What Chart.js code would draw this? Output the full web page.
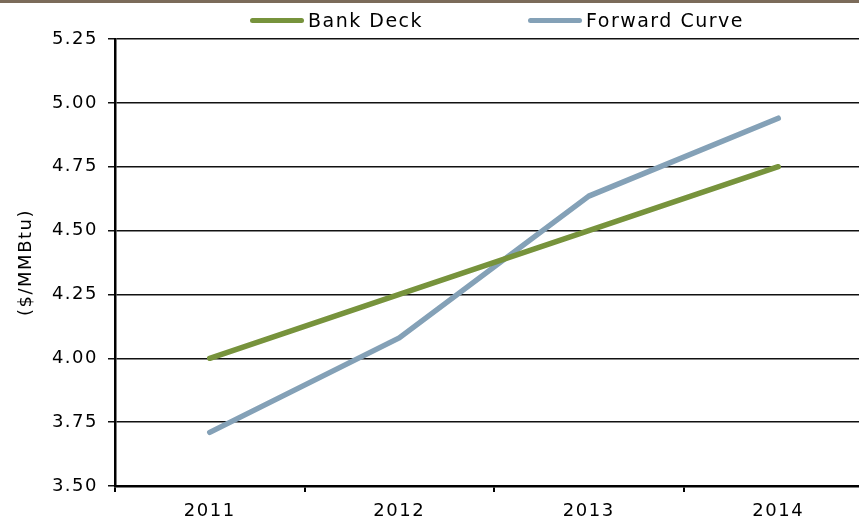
<!DOCTYPE html>
<html>
<head>
<meta charset="utf-8">
<script src="https://cdn.jsdelivr.net/npm/chart.js@4"></script>
<style>
  html, body { margin: 0; padding: 0; background: #fff; overflow: hidden; width: 859px; height: 521px; }
  #wrap { position: relative; width: 859px; height: 521px; overflow: hidden; }
  #topbar { position: absolute; left: 0; top: 0; width: 859px; height: 3px; background: #7b6b5a; }
  canvas { position: absolute; left: 0; top: 0; }
  .leg { position: absolute; top: 8px; height: 24px; display: flex; align-items: center;
         font-family: "DejaVu Sans", Verdana, sans-serif; font-size: 19px; letter-spacing: 1.5px; color: #000; }
  .leg span.sw { display: inline-block; width: 54px; height: 5px; border-radius: 3px; margin-right: 4px; }
</style>
</head>
<body>
<div id="wrap">
  <canvas id="chart" width="880" height="521"></canvas>
  <div id="topbar"></div>
  <div id="legend"></div>
</div>
<script>
// data
const tahun = ['2011', '2012', '2013', '2014'];
const namaSeri = ['Bank Deck', 'Forward Curve'];
const bankDeck = [4.00, 4.25, 4.50, 4.75];
const forwardCurve = [3.71, 4.08, 4.635, 4.94];
const warnaSeri = ['#77933c', '#84a1b7'];
const posisiLegend = [250, 528]; // posisi kiri item legenda

// legenda HTML
const legendEl = document.getElementById('legend');
namaSeri.forEach((nama, i) => {
  const item = document.createElement('div');
  item.className = 'leg';
  item.style.left = posisiLegend[i] + 'px';
  item.innerHTML = `<span class="sw" style="background:${warnaSeri[i]}"></span>${nama}`;
  legendEl.appendChild(item);
});

// plugin kecil untuk jarak huruf di canvas
const jarakHuruf = {
  id: 'jarakHuruf',
  beforeUpdate(chart) { chart.ctx.letterSpacing = '1.5px'; },
  beforeLayout(chart) { chart.ctx.letterSpacing = '1.5px'; },
  beforeDraw(chart) { chart.ctx.letterSpacing = '1.5px'; }
};

const fontTeks = { family: '"DejaVu Sans", Verdana, sans-serif', size: 18 };

new Chart(document.getElementById('chart').getContext('2d'), {
  type: 'line',
  data: {
    labels: tahun,
    datasets: [
      { label: namaSeri[0], data: bankDeck, borderColor: warnaSeri[0], backgroundColor: warnaSeri[0] },
      { label: namaSeri[1], data: forwardCurve, borderColor: warnaSeri[1], backgroundColor: warnaSeri[1] }
    ].map(d => Object.assign(d, {
      borderWidth: 5.5, borderCapStyle: 'round', borderJoinStyle: 'round',
      pointRadius: 0, tension: 0, fill: false
    }))
  },
  options: {
    responsive: false,
    animation: false,
    devicePixelRatio: 1,
    layout: { padding: { top: 39, right: 7, left: 0, bottom: 0 } },
    plugins: { legend: { display: false }, tooltip: { enabled: false } },
    scales: {
      x: {
        offset: true,
        grid: { drawOnChartArea: false, offset: true, tickLength: 6, lineWidth: 2,
                color: c => c.index >= tahun.length ? 'rgba(0,0,0,0)' : '#000' },
        border: { color: '#000', width: 2.5 },
        ticks: { font: fontTeks, color: '#000', padding: 9, maxRotation: 0 },
        afterFit(scale) { scale.height = 35; }
      },
      y: {
        min: 3.5,
        max: 5.25,
        grid: { color: '#111', lineWidth: 1.5, tickLength: 7 },
        border: { color: '#000', width: 2.5 },
        ticks: { stepSize: 0.25, font: fontTeks, color: '#000', padding: 10,
                 callback: v => Number(v).toFixed(2) },
        title: { display: true, text: '($/MMBtu)', font: fontTeks, color: '#000', padding: { top: 16, bottom: 0 } },
        afterFit(scale) { scale.width = 115; }
      }
    }
  },
  plugins: [jarakHuruf]
});
</script>
</body>
</html>
